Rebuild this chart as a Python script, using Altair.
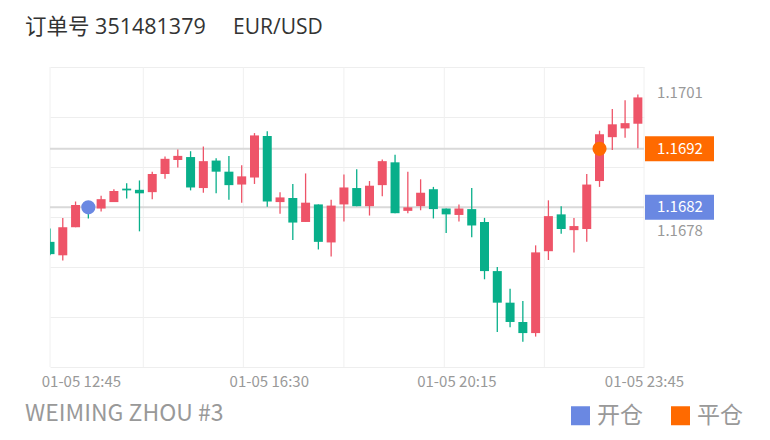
import altair as alt
import pandas as pd

FONT = "Noto Sans CJK SC"
TITLE_FONT = "Open Sans, Noto Sans CJK SC"

title_order = "订单号 351481379"
title_pair = "EUR/USD"
footer_text = "WEIMING ZHOU #3"

opens = [1.16761, 1.16738, 1.16786, 1.16822, 1.16818, 1.16829, 1.16852, 1.16850, 1.16846, 1.16877,
         1.16901, 1.16906, 1.16853, 1.16900, 1.16881, 1.16859, 1.16871, 1.16942, 1.16829, 1.16836,
         1.16795, 1.16825, 1.16760, 1.16825, 1.16853, 1.16822, 1.16858, 1.16897, 1.16814, 1.16822,
         1.16851, 1.16818, 1.16807, 1.16817, 1.16795, 1.16711, 1.16657, 1.16624, 1.16605, 1.16745,
         1.16808, 1.16781, 1.16783, 1.16865, 1.16940, 1.16955, 1.16963]
closes = [1.16740, 1.16786, 1.16824, 1.16816, 1.16834, 1.16848, 1.16849, 1.16844, 1.16877, 1.16903,
          1.16908, 1.16854, 1.16899, 1.16881, 1.16858, 1.16873, 1.16943, 1.16830, 1.16837, 1.16794,
          1.16828, 1.16761, 1.16823, 1.16854, 1.16822, 1.16857, 1.16899, 1.16810, 1.16820, 1.16845,
          1.16817, 1.16808, 1.16818, 1.16789, 1.16711, 1.16657, 1.16624, 1.16605, 1.16743, 1.16805,
          1.16783, 1.16788, 1.16859, 1.16945, 1.16962, 1.16964, 1.17008]
highs = [1.16784, 1.16802, 1.16830, 1.16827, 1.16840, 1.16851, 1.16861, 1.16866, 1.16881, 1.16907,
         1.16919, 1.16916, 1.16924, 1.16904, 1.16908, 1.16892, 1.16947, 1.16950, 1.16846, 1.16860,
         1.16878, 1.16825, 1.16833, 1.16876, 1.16885, 1.16865, 1.16902, 1.16910, 1.16881, 1.16868,
         1.16855, 1.16818, 1.16825, 1.16853, 1.16802, 1.16718, 1.16681, 1.16660, 1.16755, 1.16832,
         1.16822, 1.16802, 1.16877, 1.16951, 1.16988, 1.17003, 1.17013]
lows = [1.16738, 1.16729, 1.16786, 1.16801, 1.16813, 1.16829, 1.16835, 1.16779, 1.16834, 1.16869,
        1.16888, 1.16849, 1.16845, 1.16844, 1.16833, 1.16828, 1.16860, 1.16821, 1.16809, 1.16764,
        1.16795, 1.16748, 1.16736, 1.16796, 1.16822, 1.16806, 1.16839, 1.16810, 1.16810, 1.16815,
        1.16801, 1.16776, 1.16796, 1.16769, 1.16697, 1.16607, 1.16615, 1.16590, 1.16599, 1.16730,
        1.16775, 1.16743, 1.16761, 1.16855, 1.16918, 1.16939, 1.16921]

tick_labels = ["01-05 12:45", "01-05 16:30", "01-05 20:15", "01-05 23:45"]
tick_pos = [2.42, 17.12, 31.8, 46.48]
vgrid_pos = [0, 7.3, 15.13, 23.0, 30.85, 38.68, 46.48]

trade_types = ["开仓", "平仓"]
trade_idx = [3, 43]
trade_price = [1.1682, 1.1692]
mark_labels = ["1.1701", "1.1678"]
mark_values = [1.1701, 1.1678]

x_domain = [0, 46.48]
y_domain = [1.16547, 1.17060]

RED = "#EE5468"
GREEN = "#08AF8A"
BLUE = "#6A88E2"
ORANGE = "#FF6A00"
GRAY = "#999999"

df = pd.DataFrame({"i": list(range(len(opens))), "open": opens, "high": highs,
                   "low": lows, "close": closes})

xs = alt.Scale(domain=x_domain, nice=False, zero=False, padding=0)
ys = alt.Scale(domain=y_domain, nice=False, zero=False, padding=0)
ygrid = [y_domain[0] + k * (y_domain[1] - y_domain[0]) / 6 for k in range(7)]

label_expr = ("[" + ",".join(f"'{t}'" for t in tick_labels) + "][indexof(["
              + ",".join(str(p) for p in tick_pos) + "], datum.value)]")

updown = alt.condition("datum.close >= datum.open", alt.value(RED), alt.value(GREEN))

vgrid = alt.Chart(pd.DataFrame({"i": vgrid_pos})).mark_rule(color="#f0f0f0", strokeWidth=1).encode(
    x=alt.X("i:Q", scale=xs, title=None,
            axis=alt.Axis(values=tick_pos, labelExpr=label_expr, grid=False, domain=False,
                          ticks=False, labelFlush=False, labelFontSize=15, labelColor=GRAY,
                          labelFont=FONT, labelPadding=7, title=None)),
)

price_lines = alt.Chart(pd.DataFrame({"p": trade_price})).mark_rule(color="#d9d9d9", strokeWidth=2).encode(
    y=alt.Y("p:Q", scale=ys, title=None,
            axis=alt.Axis(values=ygrid, labels=False, ticks=False, domain=False, grid=True,
                          gridColor="#eeeeee", gridWidth=1, title=None)),
    x=alt.value(0), x2=alt.value(594),
)

wicks = alt.Chart(df).mark_rule(strokeWidth=1.3, clip=True).encode(
    x=alt.X("i:Q", scale=xs, title=None),
    y=alt.Y("low:Q", scale=ys, title=None),
    y2="high:Q",
    color=updown,
)

bodies = alt.Chart(df).mark_bar(size=9, clip=True).encode(
    x=alt.X("i:Q", scale=xs, title=None),
    y=alt.Y("open:Q", scale=ys, title=None),
    y2="close:Q",
    color=updown,
)

dots = alt.Chart(pd.DataFrame({"i": trade_idx, "p": trade_price, "type": trade_types})).mark_circle(
    size=200, opacity=1).encode(
    x=alt.X("i:Q", scale=xs, title=None),
    y=alt.Y("p:Q", scale=ys, title=None),
    color=alt.Color("type:N", scale=alt.Scale(domain=trade_types, range=[BLUE, ORANGE]),
                    legend=alt.Legend(title=None, orient="none", legendX=519, legendY=337,
                                      direction="horizontal", symbolType="square", symbolSize=361,
                                      symbolStrokeWidth=0, labelFontSize=23, labelFont=FONT,
                                      labelColor=GRAY, labelOffset=5, columnPadding=26, padding=0,
                                      labelLimit=300)),
)

box_df = pd.DataFrame({"p": trade_price, "c": [BLUE, ORANGE], "t": [f"{v:.4f}" for v in trade_price]})
boxes = alt.Chart(box_df).mark_rule(strokeWidth=25, strokeCap="butt").encode(
    y=alt.Y("p:Q", scale=ys, title=None),
    x=alt.value(595), x2=alt.value(664),
    stroke=alt.Stroke("c:N", scale=None),
)
box_text = alt.Chart(box_df).mark_text(color="white", fontSize=15, font=FONT).encode(
    y=alt.Y("p:Q", scale=ys, title=None), x=alt.value(630), text="t:N")

gray_top = alt.Chart(pd.DataFrame({"p": mark_values[:1], "t": mark_labels[:1]})).mark_text(
    color=GRAY, fontSize=15, font=FONT, dy=-3).encode(
    y=alt.Y("p:Q", scale=ys, title=None), x=alt.value(630), text="t:N")
gray_bottom = alt.Chart(pd.DataFrame({"p": mark_values[1:], "t": mark_labels[1:]})).mark_text(
    color=GRAY, fontSize=15, font=FONT).encode(
    y=alt.Y("p:Q", scale=ys, title=None), x=alt.value(630), text="t:N")

title1 = alt.Chart(pd.DataFrame({"t": [title_order]})).mark_text(
    color="#333333", fontSize=21.5, font=TITLE_FONT, align="left", baseline="middle").encode(
    text="t:N", x=alt.value(-25), y=alt.value(-39))
title2 = alt.Chart(pd.DataFrame({"t": [title_pair]})).mark_text(
    color="#333333", fontSize=21, font=TITLE_FONT, align="left", baseline="middle").encode(
    text="t:N", x=alt.value(183), y=alt.value(-39))
footer = alt.Chart(pd.DataFrame({"t": [footer_text]})).mark_text(
    color=GRAY, fontSize=23, font=FONT, align="left", baseline="middle").encode(
    text="t:N", x=alt.value(-25), y=alt.value(347))

chart = alt.layer(vgrid, price_lines, wicks, bodies, dots, boxes, box_text, gray_top, gray_bottom,
                  title1, title2, footer).properties(
    width=594, height=300, autosize="none",
    padding={"left": 42, "top": 59, "right": 110, "bottom": 64},
).configure_view(stroke=None)

chart.save("out.html", embed_options={"renderer": "svg", "actions": False})
